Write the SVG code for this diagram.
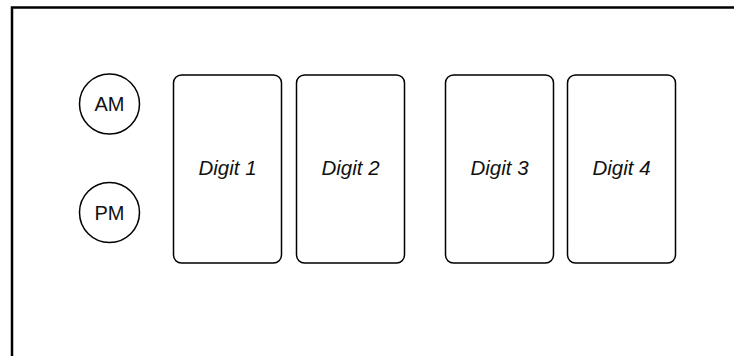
<svg xmlns="http://www.w3.org/2000/svg" width="734" height="356" viewBox="0 0 734 356">
<style>
.frame{fill:none;stroke:#000;stroke-width:2.5}
.ind{fill:#fff;stroke:#000;stroke-width:1.5}
.dig{fill:#fff;stroke:#000;stroke-width:1.5}
.lbl{font-family:"Liberation Sans",Arial,sans-serif;font-size:20px;fill:#111;text-anchor:middle}
.dl{font-family:"Liberation Sans",Arial,sans-serif;font-size:20.5px;font-style:italic;fill:#111;text-anchor:middle}
</style>
<rect width="734" height="356" fill="#fff"/>
<g id="frame"><path class="frame" d="M12,370 V7.5 H740"/></g>
<g id="am"><circle class="ind" cx="109.5" cy="104" r="30"/><text class="lbl" x="109.5" y="111">AM</text></g>
<g id="pm"><circle class="ind" cx="109.5" cy="212.5" r="30"/><text class="lbl" x="109.5" y="219.5">PM</text></g>
<g id="digit1"><rect class="dig" x="173.5" y="75" width="108" height="188" rx="8"/><text class="dl" x="227.5" y="175">Digit 1</text></g>
<g id="digit2"><rect class="dig" x="296.5" y="75" width="108" height="188" rx="8"/><text class="dl" x="350.5" y="175">Digit 2</text></g>
<g id="digit3"><rect class="dig" x="445.5" y="75" width="108" height="188" rx="8"/><text class="dl" x="499.5" y="175">Digit 3</text></g>
<g id="digit4"><rect class="dig" x="567.5" y="75" width="108" height="188" rx="8"/><text class="dl" x="621.5" y="175">Digit 4</text></g>
<g id="connectors"></g>
</svg>
